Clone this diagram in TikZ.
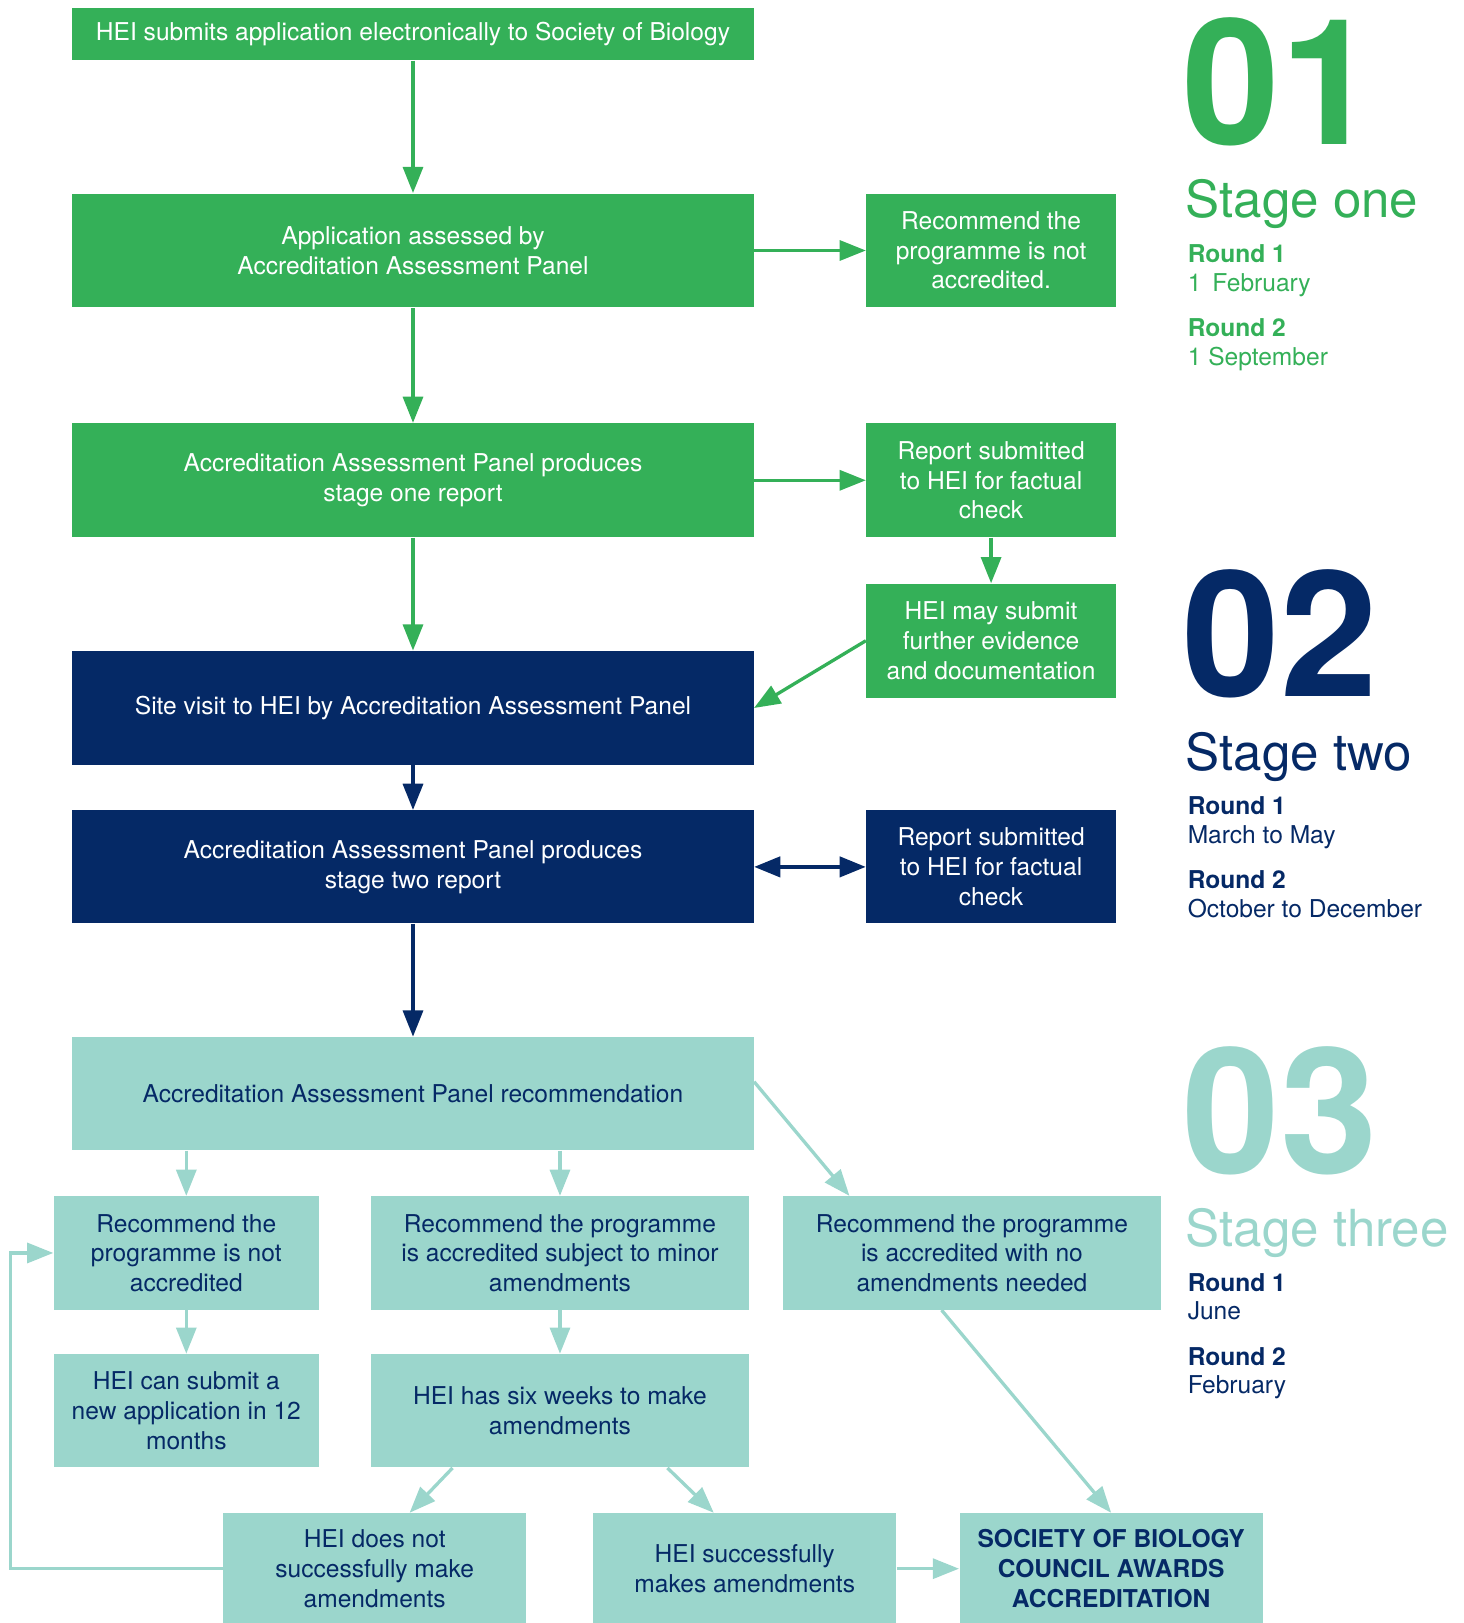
\documentclass[tikz,border=0pt]{standalone}
\usepackage{fontspec}
\setmainfont{TeX Gyre Heros}
\usetikzlibrary{arrows.meta}

\definecolor{sbgreen}{RGB}{52,176,88}
\definecolor{sbnavy}{RGB}{5,41,102}
\definecolor{sbteal}{RGB}{155,214,204}

\tikzset{every picture/.style={line width=0.75pt},
  box/.style={rectangle, inner sep=0pt, align=center, font=\fontsize{17.8}{21.5}\selectfont},
  greenbox/.style={box, fill=sbgreen, text=white},
  navybox/.style={box, fill=sbnavy, text=white},
  tealbox/.style={box, fill=sbteal, text=sbnavy},
  wide/.style={minimum width=493.5pt, minimum height=82.5pt},
  side/.style={minimum width=180.75pt, minimum height=82.5pt},
  narrow/.style={minimum width=192pt, minimum height=82pt},
  mid/.style={minimum width=274.5pt, minimum height=82pt},
  low/.style={minimum width=219.75pt, minimum height=80.25pt},
  flow/.style={line width=2.4pt, -{Triangle[length=19pt,width=14.5pt]}},
  bignum/.style={anchor=base west, inner sep=0pt, font=\fontsize{127}{127}\selectfont\bfseries},
  stagename/.style={anchor=base west, inner sep=0pt, font=\fontsize{37}{37}\selectfont},
  roundname/.style={anchor=base west, inner sep=0pt, font=\fontsize{17.8}{21}\selectfont\bfseries},
  rounddate/.style={anchor=base west, inner sep=0pt, font=\fontsize{17.8}{21}\selectfont}
}

\begin{document}
\begin{tikzpicture}[x=0.75pt,y=0.75pt,yscale=-1,xscale=1]
\useasboundingbox (0,0) rectangle (1414,1568);

%Shape: Rectangle [stage one]
\node[greenbox, minimum width=493.5pt, minimum height=37.5pt] (submit) at (399,33) {HEI submits application electronically to Society of Biology};
\node[greenbox, wide] (assess) at (399,242) {Application assessed by\\Accreditation Assessment Panel};
\node[greenbox, side] (notacc) at (957.5,242) {Recommend the\\programme is not\\accredited.};
\node[greenbox, wide] (report1) at (399,464) {Accreditation Assessment Panel produces\\stage one report};
\node[greenbox, side] (check1) at (957.5,464) {Report submitted\\to HEI for factual\\check};
\node[greenbox, side] (evidence) at (957.5,619) {HEI may submit\\further evidence\\and documentation};

%Shape: Rectangle [stage two]
\node[navybox, wide] (visit) at (399,684) {Site visit to HEI by Accreditation Assessment Panel};
\node[navybox, wide, minimum height=81.75pt] (report2) at (399,837.5) {Accreditation Assessment Panel produces\\stage two report};
\node[navybox, side, minimum height=81.75pt] (check2) at (957.5,837.5) {Report submitted\\to HEI for factual\\check};

%Shape: Rectangle [stage three]
\node[tealbox, wide, minimum height=81.75pt] (recomm) at (399,1056.5) {Accreditation Assessment Panel recommendation};
\node[tealbox, narrow] (notacc2) at (180,1210.5) {Recommend the\\programme is not\\accredited};
\node[tealbox, mid] (minor) at (541,1210.5) {Recommend the programme\\is accredited subject to minor\\amendments};
\node[tealbox, mid] (noamend) at (939,1210.5) {Recommend the programme\\is accredited with no\\amendments needed};
\node[tealbox, narrow] (newapp) at (180,1363) {HEI can submit a\\new application in 12\\months};
\node[tealbox, mid] (sixweeks) at (541,1363) {HEI has six weeks to make\\amendments};
\node[tealbox, low] (fail) at (362,1515.5) {HEI does not\\successfully make\\amendments};
\node[tealbox, low] (success) at (719.5,1515.5) {HEI successfully\\makes amendments};
\node[tealbox, low] (awards) at (1073.5,1515.5) {\bfseries SOCIETY OF BIOLOGY\\\bfseries COUNCIL AWARDS\\\bfseries ACCREDITATION};
\coordinate (loop) at (10,1360);

%Straight Lines
\draw[flow, sbgreen] (submit) -- (assess);
\draw[flow, sbgreen] (assess) -- (notacc);
\draw[flow, sbgreen] (assess) -- (report1);
\draw[flow, sbgreen] (report1) -- (check1);
\draw[flow, sbgreen] (report1) -- (visit);
\draw[flow, sbgreen] (check1) -- (evidence);
\draw[flow, sbgreen] (evidence.west) -- (visit.east);
\draw[flow, sbnavy] (visit) -- (report2);
\draw[flow, sbnavy, line width=3pt, {Triangle[length=19pt,width=14.5pt]}-{Triangle[length=19pt,width=14.5pt]}] (report2) -- (check2);
\draw[flow, sbnavy] (report2) -- (recomm);
\draw[flow, sbteal] (recomm.south -| notacc2) -- (notacc2);
\draw[flow, sbteal] (recomm.south -| minor) -- (minor);
\draw[flow, sbteal] (recomm.2) -- (noamend.155);
\draw[flow, sbteal] (notacc2) -- (newapp);
\draw[flow, sbteal] (minor) -- (sixweeks);
\draw[flow, sbteal] (noamend.242) -- (awards.north);
\draw[flow, sbteal] (sixweeks.208) -- (fail.58);
\draw[flow, sbteal] (sixweeks.332) -- (success.119);
\draw[flow, sbteal] (success) -- (awards);
\draw[flow, sbteal] (fail.west) -| (loop) |- (notacc2.west);

% Text Node
\node[bignum, text=sbgreen] (num1) at (1142,140) {01};
\node[stagename, text=sbgreen] (stage1) at (1145,210) {Stage one};
\node[roundname, text=sbgreen] (s1r1) at (1147,254) {Round 1};
\node[rounddate, text=sbgreen] (s1d1) at (1147,282) {1\hspace{0.45em}February};
\node[roundname, text=sbgreen] (s1r2) at (1147,325) {Round 2};
\node[rounddate, text=sbgreen] (s1d2) at (1147,353) {1 September};

% Text Node
\node[bignum, text=sbnavy] (num2) at (1142,673) {02};
\node[stagename, text=sbnavy] (stage2) at (1145,744) {Stage two};
\node[roundname, text=sbnavy] (s2r1) at (1147,787) {Round 1};
\node[rounddate, text=sbnavy] (s2d1) at (1147,815) {March to May};
\node[roundname, text=sbnavy] (s2r2) at (1147,858) {Round 2};
\node[rounddate, text=sbnavy] (s2d2) at (1147,886) {October to December};

% Text Node
\node[bignum, text=sbteal] (num3) at (1142,1134) {03};
\node[stagename, text=sbteal] (stage3) at (1145,1204) {Stage three};
\node[roundname, text=sbnavy] (s3r1) at (1147,1248) {Round 1};
\node[rounddate, text=sbnavy] (s3d1) at (1147,1275) {June};
\node[roundname, text=sbnavy] (s3r2) at (1147,1319) {Round 2};
\node[rounddate, text=sbnavy] (s3d2) at (1147,1346) {February};

\end{tikzpicture}
\end{document}
